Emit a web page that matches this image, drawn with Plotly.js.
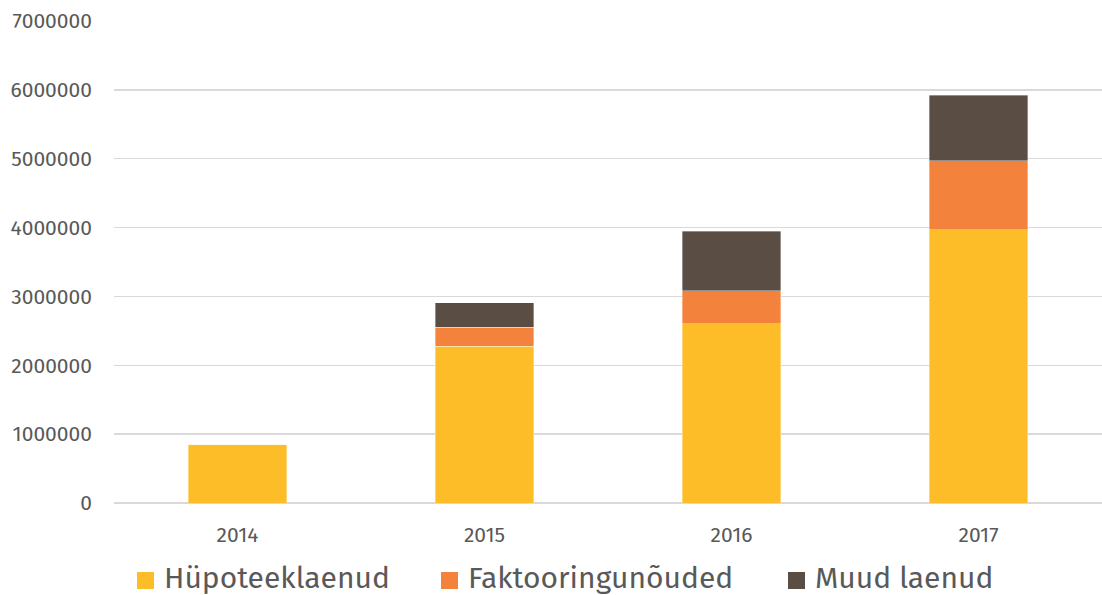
<!DOCTYPE html>
<html>
<head>
<meta charset="utf-8">
<script src="https://cdn.plot.ly/plotly-3.0.1.min.js"></script>
<style>html,body{margin:0;padding:0;background:#fff;}#chart{width:1102px;height:595px;}</style>
</head>
<body>
<div id="chart"></div>
<script>
const years = ['2014', '2015', '2016', '2017'];
const hupoteek = [850000, 2280000, 2600000, 3970000];
const faktooring = [0, 275000, 485000, 1000000];
const muud = [0, 350000, 860000, 955000];
const seriesNames = ['Hüpoteeklaenud', 'Faktooringunõuded', 'Muud laenud'];
const colors = ['#FDBD28', '#F2823C', '#5A4D43'];
const yTicks = [0, 1000000, 2000000, 3000000, 4000000, 5000000, 6000000, 7000000];

const W = 1102, H = 595;
const M = {l: 114, r: 0, t: 21, b: 92};
const font = 'Fira Sans, "Open Sans", "Noto Sans", sans-serif';
const series = [hupoteek, faktooring, muud];
const traces = series.map((vals, i) => ({
  type: 'bar',
  x: years,
  y: vals,
  name: seriesNames[i],
  showlegend: false,
  marker: {color: colors[i], line: {color: 'rgba(255,255,255,0.6)', width: 0.6}},
  hoverinfo: 'x+y+name'
}));

// custom legend (layout positions in pixels, converted to paper fractions)
const pw = W - M.l - M.r, ph = H - M.t - M.b;
const px = x => (x - M.l) / pw;
const py = y => (H - M.b - y) / ph;
const legendX = [137, 441, 788];
const sq = 17, legTop = 572;
const shapes = [], annotations = [];
seriesNames.forEach((n, i) => {
  shapes.push({type: 'rect', xref: 'paper', yref: 'paper',
    x0: px(legendX[i]), x1: px(legendX[i] + sq), y0: py(legTop + sq), y1: py(legTop),
    fillcolor: colors[i], line: {width: 0}});
  annotations.push({xref: 'paper', yref: 'paper', x: px(legendX[i] + sq + 8), y: py(legTop + sq / 2 - 3),
    xanchor: 'left', yanchor: 'middle', showarrow: false, text: n,
    font: {size: 30, color: '#595959', family: font}});
});

const layout = {
  width: W, height: H,
  barmode: 'stack',
  bargap: 0.6,
  margin: M,
  paper_bgcolor: '#fff', plot_bgcolor: '#fff',
  font: {family: font, color: '#595959'},
  xaxis: {
    type: 'category',
    tickfont: {size: 21, color: '#595959', family: font},
    ticklabelstandoff: 17,
    showline: false, ticks: '', showgrid: false, zeroline: false
  },
  yaxis: {
    range: [0, 7000000],
    tickvals: yTicks,
    ticktext: yTicks.map(v => String(v)),
    tickfont: {size: 21, color: '#595959', family: font},
    ticklabelstandoff: 21,
    showgrid: true, gridcolor: '#D9D9D9', gridwidth: 1.3,
    zeroline: true, zerolinecolor: '#D9D9D9', zerolinewidth: 1.3,
    ticks: '', ticklen: 0, showline: false,
    automargin: false
  },
  showlegend: false,
  shapes: shapes,
  annotations: annotations
};

Plotly.newPlot('chart', traces, layout, {displayModeBar: false, staticPlot: true});
</script>
</body>
</html>
